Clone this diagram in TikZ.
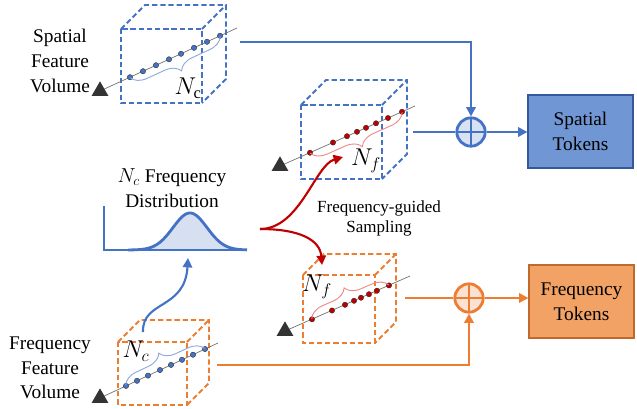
\documentclass[tikz,border=0pt]{standalone}
\usepackage{fontspec}
\setmainfont{Liberation Serif}
\usetikzlibrary{arrows.meta,shapes.geometric,decorations.pathreplacing}

\definecolor{sblue}{HTML}{4472C4}
\definecolor{forange}{HTML}{ED7D31}
\definecolor{sred}{HTML}{C00000}
\definecolor{bracered}{HTML}{EE8A8A}
\definecolor{braceblue}{HTML}{8EAADB}
\definecolor{plusb}{HTML}{D9E2F3}
\definecolor{pluso}{HTML}{FBE2D2}
\definecolor{stokfill}{HTML}{7096D4}
\definecolor{stokline}{HTML}{34589A}
\definecolor{ftokfill}{HTML}{F2A265}
\definecolor{ftokline}{HTML}{C2682A}
\definecolor{gaussfill}{HTML}{D6E0F1}

\tikzset{
  cube/.style={line width=1.6pt, dash pattern=on 4.5pt off 2.5pt},
  ray/.style={draw=black!55, line width=0.6pt},
  eye/.style={regular polygon, regular polygon sides=3, fill=black!80, inner sep=0pt, minimum size=0.58cm},
  dotb/.style={circle, fill=sblue, draw=black!85, line width=0.3pt, inner sep=0pt, minimum size=0.16cm},
  dotr/.style={circle, fill=sred, draw=black!85, line width=0.3pt, inner sep=0pt, minimum size=0.16cm},
  braceb/.style={draw=braceblue, line width=0.8pt, decorate},
  bracer/.style={draw=bracered, line width=0.8pt, decorate},
  flow/.style={line width=2.4pt},
  tip/.style={-{Triangle[length=8pt,width=8pt]}},
  oplus/.style={circle, draw=#1, line width=2.4pt, minimum size=0.85cm, inner sep=0pt,
    path picture={\draw[#1, line width=2.4pt] (path picture bounding box.north) -- (path picture bounding box.south)
      (path picture bounding box.west) -- (path picture bounding box.east);}},
  tokbox/.style={rectangle, line width=1pt, minimum width=3.15cm, minimum height=2.19cm, align=center,
    font=\fontsize{16.5}{21}\selectfont},
  lbl/.style={align=center, font=\fontsize{16.5}{21}\selectfont},
  count/.style={font=\fontsize{20}{24}\selectfont},
  small/.style={align=center, font=\fontsize{14.5}{17}\selectfont}
}

\begin{document}
\begin{tikzpicture}[x=0.03cm,y=-0.03cm]
  \useasboundingbox (0,0) rectangle (637,408);

  % the four dashed volumes: front corner / width / height / depth / colour
  \foreach \x/\y/\w/\h/\d/\c in {121/29/81/74/24/sblue, 301/105/81/74/25/sblue,
                                 303/275/72/68/21/forange, 118/342/69/63/22/forange}{
    \draw[cube,\c] (\x,\y) rectangle ++(\w,\h);
    \draw[cube,\c] (\x,\y) -- ++(\d,-\d) -- ++(\w,0) -- ++(0,\h) -- ++(-\d,\d);
    \draw[cube,\c] (\x+\w,\y) -- ++(\d,-\d);
  }

  % rays with sample points
  \coordinate (s-eye) at (100,91);   \coordinate (s-end) at (237,28);
  \coordinate (sf-eye) at (280,166); \coordinate (sf-end) at (415,106);
  \coordinate (ff-eye) at (285,331); \coordinate (ff-end) at (410,276);
  \coordinate (f-eye) at (100,398);  \coordinate (f-end) at (218,343);
  \draw[ray] (s-eye) -- (s-end);
  \draw[ray] (sf-eye) -- (sf-end);
  \draw[ray] (ff-eye) -- (ff-end);
  \draw[ray] (f-eye) -- (f-end);

  \foreach \p [count=\i] in {(130,77.2),(143,71.2),(156,65.2),(169,59.3),(181,53.8),(194,47.8),(207,41.8),(220,35.8)}
    \node[dotb] (sc\i) at \p {};
  \foreach \p [count=\i] in {(310,152.7),(333,142.5),(347,136.2),(357,131.8),(366,127.8),(376,123.3),(388,118),(402,111.8)}
    \node[dotr] (sf\i) at \p {};
  \foreach \p [count=\i] in {(312,319.3),(332,310.5),(345,304.8),(354,300.8),(361,297.7),(369,294.2),(377,290.7),(389,285.4)}
    \node[dotr] (ff\i) at \p {};
  \foreach \p [count=\i] in {(126,385.9),(137,380.8),(148,375.6),(160,370),(171,364.9),(182,359.8),(193,354.7),(205,349)}
    \node[dotb] (fc\i) at \p {};

  \node[eye] at (s-eye) {};
  \node[eye] at (sf-eye) {};
  \node[eye] at (ff-eye) {};
  \node[eye] at (f-eye) {};

  % braces and counts
  \draw[braceb, decoration={brace, mirror, amplitude=13pt, raise=0.5pt}] (sc1.center) -- (sc8.center);
  \draw[bracer, decoration={brace, mirror, amplitude=13pt, raise=0.5pt}] (sf1.center) -- (sf8.center);
  \draw[bracer, decoration={brace, amplitude=13pt, raise=0.5pt}] (ff1.center) -- (ff8.center);
  \draw[braceb, decoration={brace, amplitude=13pt, raise=0.5pt}] (fc1.center) -- (fc8.center);
  \node[count] (nc-s) at (188,88) {$N_{\mathrm{c}}$};
  \node[count] (nf-s) at (366,161) {$N_f$};
  \node[count] (nf-f) at (317,287) {$N_f$};
  \node[count] (nc-f) at (136,351) {$N_c$};

  % labels of the volumes
  \node[lbl] (sfv) at (60,61) {Spatial\\Feature\\Volume};
  \node[lbl] (ffv) at (50,368) {Frequency\\Feature\\Volume};

  % frequency distribution
  \node[lbl] (dlbl) at (172,188) {$N_c$ Frequency\\Distribution};
  \fill[gaussfill] plot[domain=150:232, samples=50] (\x, {250-37*exp(-((\x-190)^2)/578)}) -- (232,250) -- (150,250) -- cycle;
  \draw[flow, sblue] (104,206) -- (104,250) -- (247,250);
  \draw[flow, sblue, line join=round] plot[domain=128:247, samples=80] (\x, {250-37*exp(-((\x-190)^2)/578)});

  \coordinate (fc-up) at (143,332);
  \coordinate (dist-in) at (188,258);
  \draw[sblue, line width=1.8pt, tip] (fc-up) .. controls (142,300) and (185,310) .. (dist-in);

  % frequency-guided sampling
  \coordinate (split) at (260,229);
  \coordinate (to-s) at (343,157);
  \coordinate (to-f) at (322,265);
  \draw[sred, line width=1.8pt, tip] (split) .. controls (300,229) and (315,165) .. (to-s);
  \draw[sred, line width=1.8pt, tip] (split) .. controls (300,229) and (320,240) .. (to-f);
  \node[small] (fgs) at (379,218) {Frequency-guided\\Sampling};

  % spatial branch
  \coordinate (s-out) at (240,42);
  \coordinate (sf-out) at (413,132);
  \node[oplus=sblue, fill=plusb] (splus) at (471,132) {};
  \node[tokbox, fill=stokfill, draw=stokline] (stok) at (580.5,131.5) {Spatial\\Tokens};
  \draw[flow, sblue, tip] (s-out) -| (splus);
  \draw[flow, sblue] (sf-out) -- (splus);
  \draw[flow, sblue, tip] (splus) -- (splus -| stok.west);

  % frequency branch
  \coordinate (ff-out) at (405,298);
  \coordinate (fc-out) at (217,365);
  \node[oplus=forange, fill=pluso] (fplus) at (469,298) {};
  \node[tokbox, fill=ftokfill, draw=ftokline] (ftok) at (581.5,301.5) {Frequency\\Tokens};
  \draw[flow, forange] (ff-out) -- (fplus);
  \draw[flow, forange, tip] (fc-out) -| (fplus);
  \draw[flow, forange, tip] (fplus) -- (fplus -| ftok.west);
\end{tikzpicture}
\end{document}
